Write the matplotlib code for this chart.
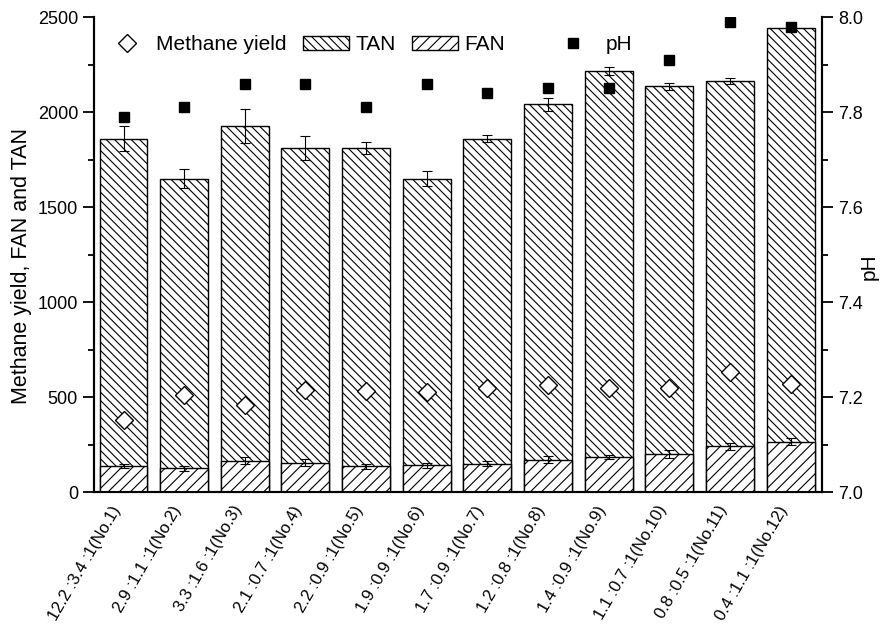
import matplotlib.pyplot as plt
import numpy as np
from matplotlib.lines import Line2D
from matplotlib.patches import Patch

plt.rcParams["font.family"] = ["Liberation Sans", "DejaVu Sans"]
plt.rcParams["hatch.linewidth"] = 0.8

Labels = [
    "12.2 :3.4 :1(No.1)", "2.9 :1.1 :1(No.2)", "3.3 :1.6 :1(No.3)",
    "2.1 :0.7 :1(No.4)", "2.2 :0.9 :1(No.5)", "1.9 :0.9 :1(No.6)",
    "1.7 :0.9 :1(No.7)", "1.2 :0.8 :1(No.8)", "1.4 :0.9 :1(No.9)",
    "1.1 :0.7 :1(No.10)", "0.8 :0.5 :1(No.11)", "0.4 :1.1 :1(No.12)",
]
TAN = [1860, 1650, 1925, 1810, 1810, 1650, 1860, 2040, 2215, 2135, 2165, 2440]
TAN_err = [65, 50, 90, 65, 30, 40, 20, 35, 20, 20, 15, 0]
FAN = [135, 125, 165, 155, 135, 140, 150, 170, 185, 200, 240, 265]
FAN_err = [10, 12, 18, 20, 12, 12, 12, 18, 12, 20, 18, 20]
Methane = [380, 510, 460, 535, 530, 525, 550, 565, 545, 550, 630, 570]
pH = [7.79, 7.81, 7.86, 7.86, 7.81, 7.86, 7.84, 7.85, 7.85, 7.91, 7.99, 7.98]

fig = plt.figure(figsize=(8.82, 6.3), dpi=100)
ax = fig.add_axes([0.1066, 0.219, 0.8254, 0.754])
ax2 = ax.twinx()

x = np.arange(len(Labels))
width = 0.79

ax.bar(x, TAN, width, color="white", edgecolor="black", linewidth=1.0,
       hatch="\\\\\\\\", zorder=2)
ax.errorbar(x, TAN, yerr=TAN_err, fmt="none", ecolor="black", elinewidth=0.8,
            capsize=3.3, capthick=0.8, zorder=3)
ax.bar(x, FAN, width, color="white", edgecolor="black", linewidth=1.0,
       hatch="///", zorder=4)
ax.errorbar(x, FAN, yerr=FAN_err, fmt="none", ecolor="black", elinewidth=0.8,
            capsize=3.3, capthick=0.8, zorder=5)
ax.plot(x, Methane, linestyle="none", marker="D", markersize=9,
        markerfacecolor="white", markeredgecolor="black", markeredgewidth=1.0,
        zorder=6)
ax2.plot(x, pH, linestyle="none", marker="s", markersize=7.5, color="black")

ax.set_xlim(-0.4865, 11.519)
ax.set_ylim(0, 2500)
ax2.set_ylim(7.0, 8.0)
ax.set_yticks(np.arange(0, 2501, 500))
ax.set_yticks(np.arange(250, 2500, 500), minor=True)
ax2.set_yticks(np.arange(7.0, 8.01, 0.2))
ax2.set_yticks(np.arange(7.1, 8.0, 0.2), minor=True)
ax2.set_yticklabels([f"{v:.1f}" for v in np.arange(7.0, 8.01, 0.2)])

ax.set_xticks(x)
ax.set_xticklabels(Labels, rotation=60, ha="right", va="top", fontsize=12)

for a in (ax, ax2):
    a.spines["top"].set_visible(False)
    for s in ("left", "right", "bottom"):
        a.spines[s].set_linewidth(1.5)
    a.tick_params(axis="y", which="major", direction="out", length=8,
                  width=1.3, labelsize=13)
    a.tick_params(axis="y", which="minor", direction="out", length=4,
                  width=1.3)
ax.tick_params(axis="x", length=0, pad=8)

ax.set_ylabel("Methane yield, FAN and TAN", fontsize=15.5)
ax.yaxis.set_label_coords(-0.085, 0.476)
ax2.set_ylabel("pH", fontsize=15)
ax2.yaxis.set_label_coords(1.052, 0.474)

handles = [
    Line2D([], [], linestyle="none", marker="D", markersize=9,
           markerfacecolor="white", markeredgecolor="black"),
    Patch(facecolor="white", edgecolor="black", hatch="\\\\\\\\"),
    Patch(facecolor="white", edgecolor="black", hatch="///"),
]
leg = ax2.legend(handles, ["Methane yield", "TAN", "FAN"], ncol=3,
                 loc="upper left", bbox_to_anchor=(-0.012, 1.001),
                 frameon=False, fontsize=15, handlelength=2.2,
                 handletextpad=0.3, columnspacing=0.8)
ax2.add_artist(leg)
ax2.legend([Line2D([], [], linestyle="none", marker="s", markersize=7.5,
                   color="black")], ["pH"], loc="upper left",
           bbox_to_anchor=(0.604, 1.001), frameon=False, fontsize=15,
           handletextpad=0.55)

plt.savefig("out.png", dpi=100)
plt.close()
